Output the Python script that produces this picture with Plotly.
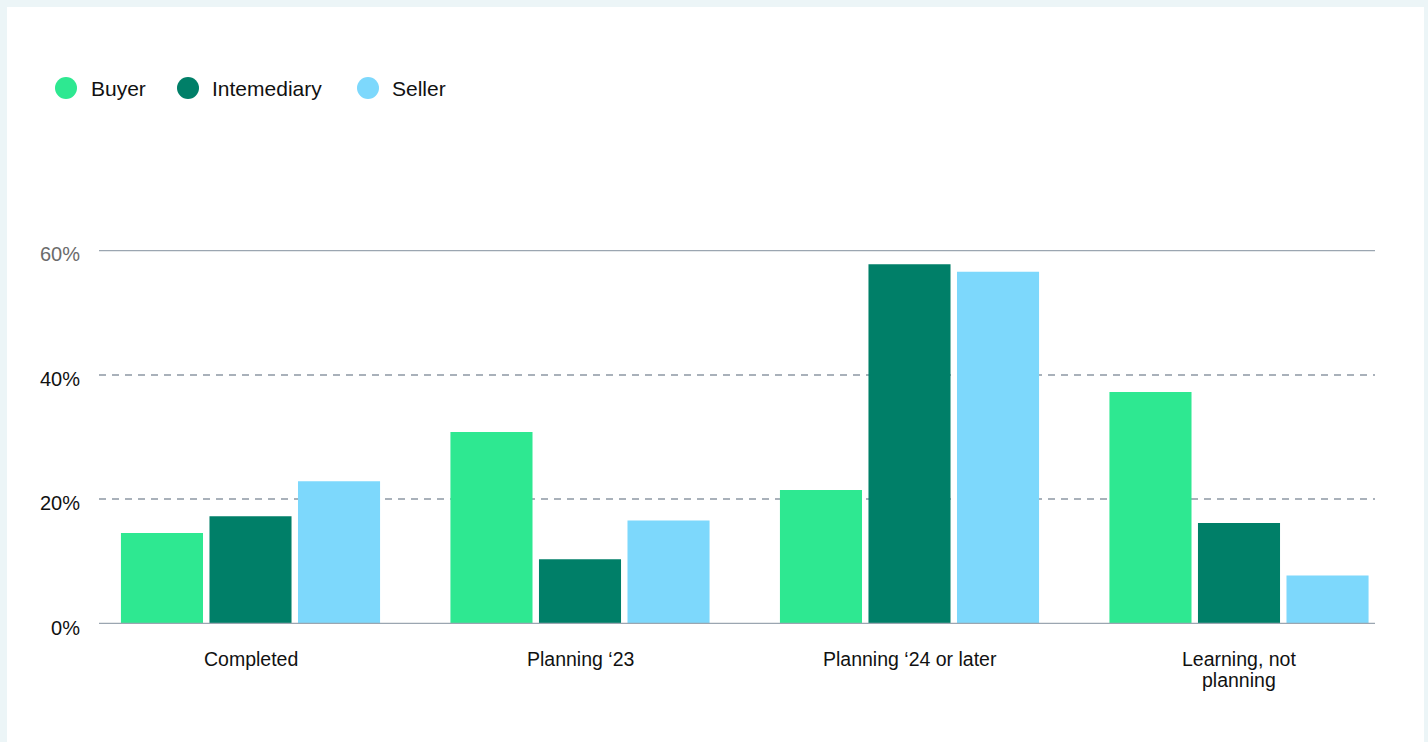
import plotly.graph_objects as go

# Survey responses by stage and participant role (percent of respondents)
categories = ["Completed", "Planning \u201823", "Planning \u201824 or later", "Learning, not<br>planning"]
series_names = ["Buyer", "Intemediary", "Seller"]
buyer = [14.6, 30.8, 21.5, 37.2]
intermediary = [17.3, 10.4, 57.7, 16.2]
seller = [22.9, 16.6, 56.5, 7.8]
series_values = [buyer, intermediary, seller]
series_colors = ["#2EE891", "#007F68", "#7DD8FC"]

y_tickvals = [0, 20, 40, 60]
y_ticktext = ["0%", "20%", "40%", '<span style="color:#6b6b6b">60%</span>']

W, H = 1428, 742
ML, MR, MT, MB = 99, 53, 250, 118
PW, PH = W - ML - MR, H - MT - MB
FONT = "Liberation Sans, Arial, sans-serif"


def px_x(px):
    return (px - ML) / PW


def px_y(py):
    return (H - MB - py) / PH


fig = go.Figure()
for name, vals, col in zip(series_names, series_values, series_colors):
    fig.add_trace(go.Bar(
        x=list(range(len(categories))), y=vals, name=name,
        marker=dict(color=col, line=dict(width=0)),
        showlegend=False,
    ))

shapes = []
# white card on the tinted page
shapes.append(dict(type="rect", xref="paper", yref="paper",
                   x0=px_x(7), x1=px_x(1424), y0=px_y(760), y1=px_y(7),
                   fillcolor="white", line=dict(width=0), layer="below"))
# solid baseline and top rule
for yv in (0, 60):
    shapes.append(dict(type="line", xref="paper", yref="y", x0=0, x1=1, y0=yv, y1=yv,
                       line=dict(color="#9BA6B1", width=2.5), layer="above"))

# legend: circle swatches + labels
legend_circle_x = [66, 188, 368]
legend_text_x = [89, 210, 390]
legend_y = 88
annotations = []
for name, col, cx, tx in zip(series_names, series_colors, legend_circle_x, legend_text_x):
    shapes.append(dict(type="circle", xref="paper", yref="paper",
                       x0=px_x(cx - 11), x1=px_x(cx + 11),
                       y0=px_y(legend_y + 11), y1=px_y(legend_y - 11),
                       fillcolor=col, line=dict(width=0)))
    annotations.append(dict(xref="paper", yref="paper", x=px_x(tx), y=px_y(legend_y),
                            xanchor="left", yanchor="middle", showarrow=False,
                            text=name, font=dict(family=FONT, size=21, color="#111111")))

# category labels, one annotation per text line for tighter line spacing
label_top_y, label_line_h = 659, 21
for i, cat in enumerate(categories):
    for j, line in enumerate(cat.split("<br>")):
        annotations.append(dict(xref="x", yref="paper", x=i,
                                y=px_y(label_top_y + j * label_line_h),
                                xanchor="center", yanchor="middle", showarrow=False,
                                text=line, font=dict(family=FONT, size=19.5, color="#111111")))

x_center0, x_step = 250.5, 329.5
x_range = [(ML - x_center0) / x_step, (W - MR - x_center0) / x_step]

fig.update_layout(
    width=W, height=H,
    margin=dict(l=ML, r=MR, t=MT, b=MB),
    paper_bgcolor="#ECF5F7",
    plot_bgcolor="white",
    barmode="group",
    bargap=0.194,
    bargroupgap=0.073,
    showlegend=False,
    shapes=shapes,
    annotations=annotations,
    font=dict(family=FONT, size=20, color="#111111"),
    xaxis=dict(
        range=x_range,
        tickmode="array",
        tickvals=list(range(len(categories))),
        showticklabels=False,
        showgrid=False, zeroline=False, showline=False,
        ticks="",
        fixedrange=True,
    ),
    yaxis=dict(
        range=[0, 60],
        tickmode="array",
        tickvals=y_tickvals,
        ticktext=y_ticktext,
        showgrid=True, gridcolor="#A9B1BA", gridwidth=1.5, griddash="7px,6px",
        zeroline=False, showline=False,
        ticks="", ticklabelstandoff=18, ticklabelshift=4,
        tickfont=dict(family=FONT, size=20, color="#111111"),
        fixedrange=True,
    ),
)

fig.write_html("out.html", config={"displayModeBar": False})
